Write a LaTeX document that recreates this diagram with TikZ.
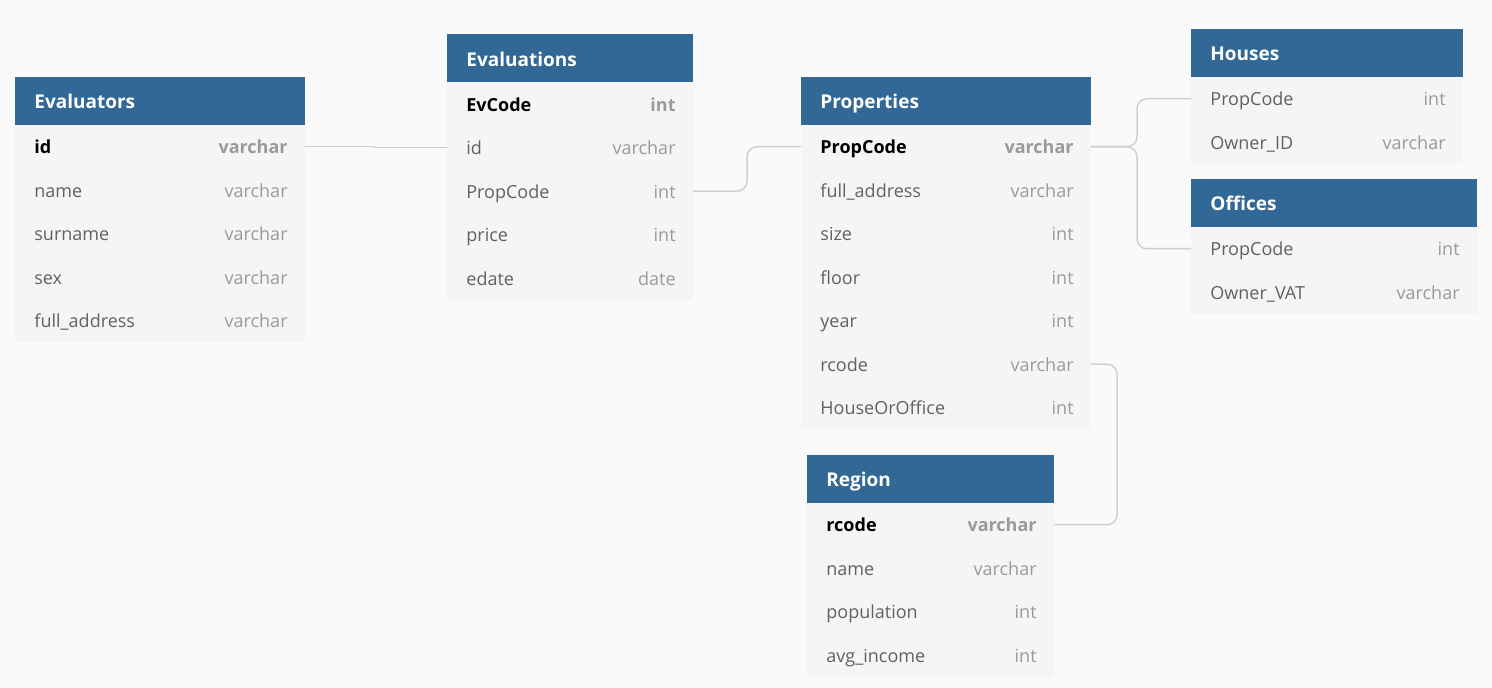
\documentclass[tikz,border=0pt]{standalone}
\usepackage{fontspec}
\setmainfont{Open Sans}
\usepackage{xcolor}
\usepackage{tikz}
\usetikzlibrary{positioning,calc}
\definecolor{hdrblue}{HTML}{316896}
\definecolor{rowgray}{HTML}{F5F5F5}
\definecolor{bggray}{HTML}{FAFAFA}
\definecolor{namegray}{HTML}{616161}
\definecolor{typegray}{HTML}{9A9A9A}
\definecolor{linkgray}{HTML}{CFCFCF}

\begin{document}
\begin{tikzpicture}[x=0.5pt, y=-0.5pt,
        hdr/.style={fill=hdrblue, minimum height=24pt, inner sep=0pt, outer sep=0pt},
        row/.style={fill=rowgray, minimum height=21.75pt, inner sep=0pt, outer sep=0pt},
        title/.style={anchor=west, inner sep=0pt, text height=7.6pt, text depth=0pt,
                      text=white, font=\fontsize{9.5}{11}\selectfont\bfseries},
        fname/.style={anchor=west, inner sep=0pt, text height=7pt, text depth=0pt,
                      text=namegray, font=\fontsize{9}{11}\selectfont},
        ftype/.style={anchor=east, inner sep=0pt, text height=7pt, text depth=0pt,
                      text=typegray, font=\fontsize{9}{11}\selectfont},
        pkname/.style={fname, text=black, font=\fontsize{9}{11}\selectfont\bfseries},
        pktype/.style={ftype, font=\fontsize{9}{11}\selectfont\bfseries},
        link/.style={draw=linkgray, line width=0.75pt, rounded corners=5pt},
    ]
    % Canvas
    \fill[bggray] (0,0) rectangle (1492,688);
    \useasboundingbox (0,0) rectangle (1492,688);

    % Evaluators table
    \node[hdr, minimum width=145pt] (evaluators) at (160,101) {};
    \node[title] at ([xshift=9.5pt]evaluators.west) {Evaluators};
    \node[row, minimum width=145pt] (evaluators-1) at (160,146.75) {};
    \node[pkname] at ([xshift=9.5pt]evaluators-1.west) {id};
    \node[pktype] at ([xshift=-8.5pt]evaluators-1.east) {varchar};
    \foreach \fn/\ft [count=\i from 2] in {name/varchar, surname/varchar, sex/varchar, full\_address/varchar} {
        \node[row, minimum width=145pt] (evaluators-\i) at (160,{146.75+43.5*(\i-1)}) {};
        \node[fname] at ([xshift=9.5pt]evaluators-\i.west) {\fn};
        \node[ftype] at ([xshift=-8.5pt]evaluators-\i.east) {\ft};
    }

    % Evaluations table
    \node[hdr, minimum width=123pt] (evaluations) at (570,58.5) {};
    \node[title] at ([xshift=9.5pt]evaluations.west) {Evaluations};
    \node[row, minimum width=123pt] (evaluations-1) at (570,104.25) {};
    \node[pkname] at ([xshift=9.5pt]evaluations-1.west) {EvCode};
    \node[pktype] at ([xshift=-8.5pt]evaluations-1.east) {int};
    \foreach \fn/\ft [count=\i from 2] in {id/varchar, PropCode/int, price/int, edate/date} {
        \node[row, minimum width=123pt] (evaluations-\i) at (570,{104.25+43.5*(\i-1)}) {};
        \node[fname] at ([xshift=9.5pt]evaluations-\i.west) {\fn};
        \node[ftype] at ([xshift=-8.5pt]evaluations-\i.east) {\ft};
    }

    % Properties table
    \node[hdr, minimum width=145pt] (properties) at (946,101) {};
    \node[title] at ([xshift=9.5pt]properties.west) {Properties};
    \node[row, minimum width=145pt] (properties-1) at (946,146.75) {};
    \node[pkname] at ([xshift=9.5pt]properties-1.west) {PropCode};
    \node[pktype] at ([xshift=-8.5pt]properties-1.east) {varchar};
    \foreach \fn/\ft [count=\i from 2] in {full\_address/varchar, size/int, floor/int, year/int,
                                            rcode/varchar, HouseOrOffice/int} {
        \node[row, minimum width=145pt] (properties-\i) at (946,{146.75+43.5*(\i-1)}) {};
        \node[fname] at ([xshift=9.5pt]properties-\i.west) {\fn};
        \node[ftype] at ([xshift=-8.5pt]properties-\i.east) {\ft};
    }

    % Houses table
    \node[hdr, minimum width=136pt] (houses) at (1327,53) {};
    \node[title] at ([xshift=9.5pt]houses.west) {Houses};
    \foreach \fn/\ft [count=\i] in {PropCode/int, Owner\_ID/varchar} {
        \node[row, minimum width=136pt] (houses-\i) at (1327,{98.75+43.5*(\i-1)}) {};
        \node[fname] at ([xshift=9.5pt]houses-\i.west) {\fn};
        \node[ftype] at ([xshift=-8.5pt]houses-\i.east) {\ft};
    }

    % Offices table
    \node[hdr, minimum width=143pt] (offices) at (1334,203) {};
    \node[title] at ([xshift=9.5pt]offices.west) {Offices};
    \foreach \fn/\ft [count=\i] in {PropCode/int, Owner\_VAT/varchar} {
        \node[row, minimum width=143pt] (offices-\i) at (1334,{248.75+43.5*(\i-1)}) {};
        \node[fname] at ([xshift=9.5pt]offices-\i.west) {\fn};
        \node[ftype] at ([xshift=-8.5pt]offices-\i.east) {\ft};
    }

    % Region table
    \node[hdr, minimum width=123.5pt] (region) at (930.5,479) {};
    \node[title] at ([xshift=9.5pt]region.west) {Region};
    \node[row, minimum width=123.5pt] (region-1) at (930.5,524.75) {};
    \node[pkname] at ([xshift=9.5pt]region-1.west) {rcode};
    \node[pktype] at ([xshift=-8.5pt]region-1.east) {varchar};
    \foreach \fn/\ft [count=\i from 2] in {name/varchar, population/int, avg\_income/int} {
        \node[row, minimum width=123.5pt] (region-\i) at (930.5,{524.75+43.5*(\i-1)}) {};
        \node[fname] at ([xshift=9.5pt]region-\i.west) {\fn};
        \node[ftype] at ([xshift=-8.5pt]region-\i.east) {\ft};
    }

    % References
    \draw[link, rounded corners=0pt] (evaluators-1.east) -- ++(69,0) |- (evaluations-2.west);
    \draw[link] (evaluations-3.east) -- ++(54,0) |- (properties-1.west);
    \draw[link] (properties-1.east) -- ++(46,0) |- (houses-1.west);
    \draw[link] (properties-1.east) -- ++(46,0) |- (offices-1.west);
    \draw[link] (properties-6.east) -- ++(26,0) |- (region-1.east);
\end{tikzpicture}
\end{document}
